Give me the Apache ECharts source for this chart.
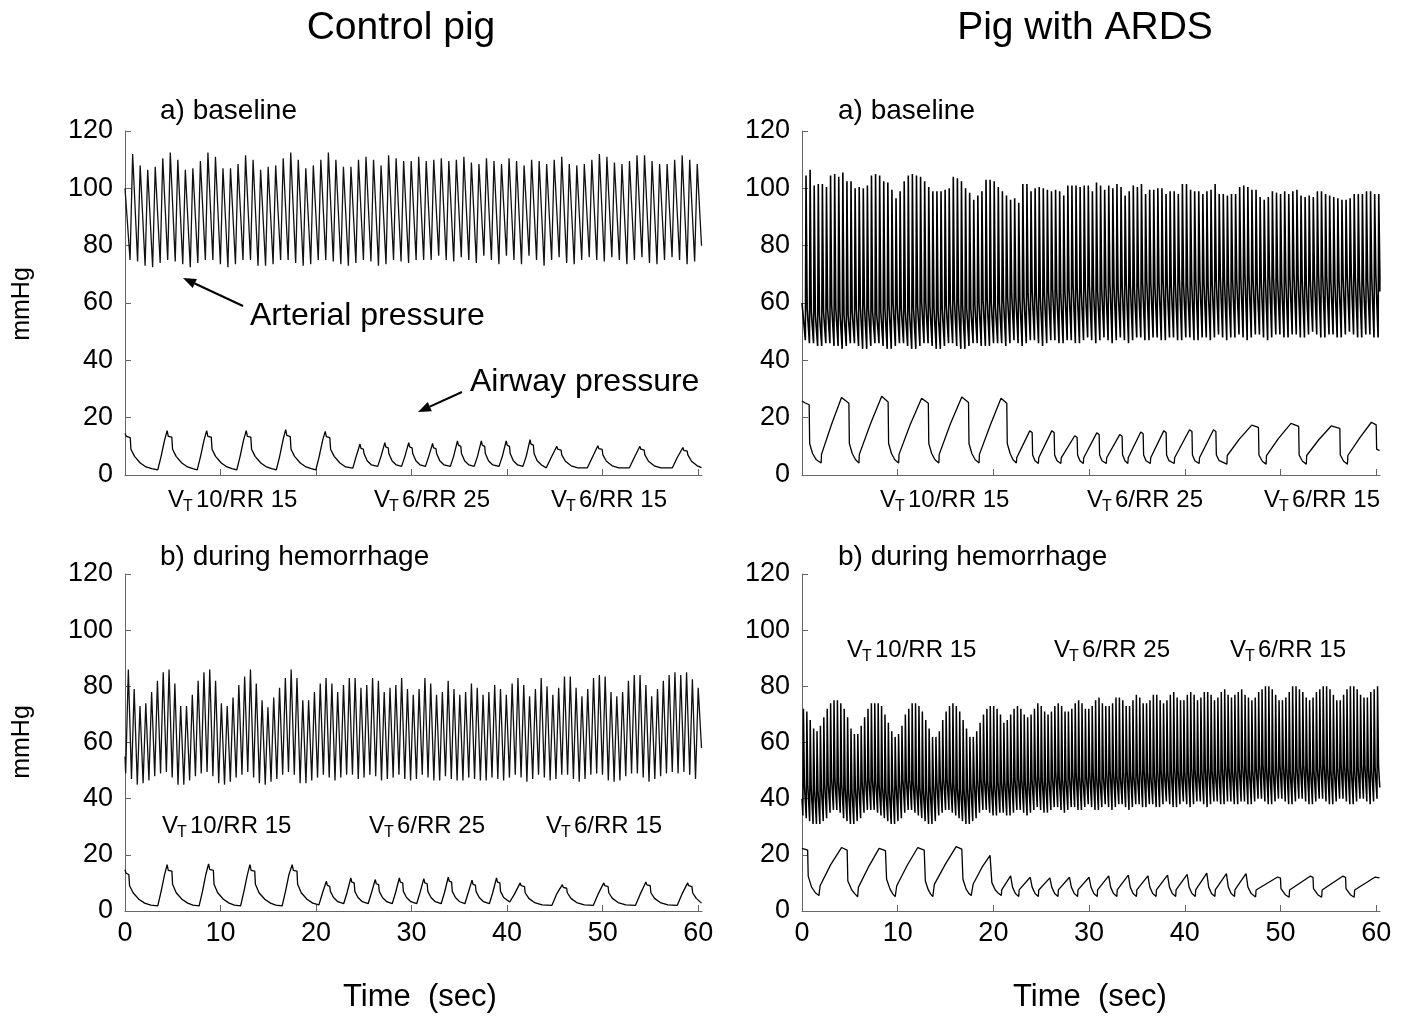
<!DOCTYPE html>
<html><head><meta charset="utf-8">
<script src="https://cdn.jsdelivr.net/npm/echarts@6/dist/echarts.min.js"></script>
<style>html,body{margin:0;padding:0;background:#fff}#c{width:1407px;height:1017px}</style>
</head><body><div id="c"></div>
<script>
// ================= DATA =================
const timeTicks = [0, 10, 20, 30, 40, 50, 60];
const timeMax = 60.4;
const pressureMin = 0, pressureMax = 120, pressureStep = 20;

// ---- Control pig, a) baseline : arterial pressure, one value per heart beat ----
// beat timing: [first systolic peak (s), beat interval (s), upstroke (s)]
const ctlBaseBeat = [0.80, 0.788, 0.27];
const ctlBaseArtStart = [0, 100];
const ctlBaseArtEnd = [60.35, 80];
const ctlBaseArtPeaks = [112,108,106.5,107.5,110.5,112.5,110,106.5,107,109.5,112.5,111,107,107,108.5,111.5,110,106.5,107.5,108,110.5,112.5,110,107,108,110,112.5,110,107.5,107.5,110,111,110,108,111.5,110.5,109.5,109.5,111,109.5,110,110.5,109.5,110,111,109,108.5,110.5,109.5,108.5,110.5,109.5,108,110,109.5,108.5,110,111,108.5,108,108.5,110,112,111,109,108.5,109.5,111.5,111.5,109.5,108.5,108.5,110,111.5,110,108.5];
const ctlBaseArtTroughs = [75,74.5,73,72.5,74,75,74.5,73.5,72.5,74,75,75,73.5,72.5,73.5,75,75,73,73,73.5,75,75,74,73,73.5,75,75,74.5,73.5,73,74,75,74.5,73,73.5,75,74.5,74,75,75,75,76.5,75,74.5,76,75,74,76.5,75,73.5,76.5,75,73.5,76.5,75,73,75,76,74,73.5,75,76,75,74.5,76,75,73.5,75,76,74,73.5,75,76,75,73.5,74.5];
// airway pressure, [time s, mmHg]
const ctlBaseAirway = [
[0,14.5],[0.15,13.5],[0.55,13],[0.62,9],[1.0,6.5],[1.6,4.2],[2.2,2.8],[2.8,2.2],[3.43,1.8],
[3.78,6.5],[4.13,12],[4.41,15.5],[4.53,13.5],[4.9,13.2],[4.98,9],[5.35,6.5],[5.95,4.2],[6.55,2.8],[7.1,2.2],[7.56,1.8],
[7.91,6.5],[8.26,12],[8.55,15.5],[8.67,13.5],[9.03,13.2],[9.11,9],[9.48,6.5],[10.08,4.2],[10.68,2.8],[11.2,2.2],[11.7,1.8],
[12.05,6.5],[12.4,12],[12.69,15.5],[12.81,13.5],[13.17,13.2],[13.25,9],[13.62,6.5],[14.22,4.2],[14.82,2.8],[15.35,2.2],[15.84,1.8],
[16.19,6.5],[16.54,12.2],[16.82,15.8],[16.94,13.8],[17.3,13.4],[17.38,9],[17.75,6.5],[18.35,4.2],[18.95,2.8],[19.5,2.2],[19.98,1.8],
[20.33,6.5],[20.68,12],[20.96,15.2],[21.08,13.4],[21.44,13],[21.52,9],[21.9,6.5],[22.5,4.2],[23.1,2.8],[23.85,2.4],
[24.2,6.5],[24.6,10.8],[24.7,9.3],[24.95,9],[25.02,7.5],[25.35,5],[25.8,3.5],[26.45,3],
[26.8,6.5],[27.2,11.3],[27.3,9.8],[27.55,9.5],[27.62,7.5],[27.95,5],[28.4,3.5],[28.95,3],
[29.3,6.5],[29.7,11.3],[29.8,9.8],[30.05,9.5],[30.12,7.5],[30.45,5],[30.9,3.5],[31.45,3],
[31.8,6.5],[32.2,11],[32.3,9.5],[32.55,9.2],[32.62,7.5],[32.95,5],[33.4,3.5],[34.05,3],
[34.4,6.5],[34.8,11.9],[34.9,10.4],[35.15,10],[35.22,7.5],[35.55,5],[36.0,3.5],[36.55,3],
[36.9,6.5],[37.3,11.9],[37.4,10.4],[37.65,10],[37.72,7.5],[38.05,5],[38.5,3.5],[39.15,3],
[39.5,6.5],[39.9,11.9],[40.0,10.4],[40.25,10],[40.32,7.5],[40.65,5],[41.1,3.5],[41.65,3],
[42.0,6.5],[42.4,12.3],[42.5,10.8],[42.75,10.4],[42.82,7.5],[43.15,5],[43.6,3.5],[44.1,2.5],
[44.6,6],[45.2,10],[45.3,9],[45.65,8.7],[45.72,7],[46.1,4.8],[46.7,3.2],[47.4,2.5],[48.4,2.5],
[48.9,6],[49.5,10.2],[49.6,9.2],[49.95,8.9],[50.02,7],[50.4,4.8],[51.0,3.2],[51.7,2.5],[52.8,2.5],
[53.3,6],[53.9,10],[54.0,9],[54.35,8.7],[54.42,7],[54.8,4.8],[55.4,3.2],[56.1,2.5],[57.3,2.5],
[57.8,6],[58.4,9.6],[58.5,8.6],[58.85,8.3],[58.92,7],[59.3,4.8],[59.9,3.2],[60.35,2.6]];

// ---- Control pig, b) during hemorrhage ----
const ctlHemBeat = [0.35, 0.6087, 0.28];
const ctlHemArtStart = [0, 55];
const ctlHemArtEnd = [60.35, 58];
const ctlHemArtPeaks = [86,79,73,74,78,82,85,86,81,73,73,77,82,85,86,82,74,73,76,80.5,83.5,86,81,75,72.5,76,79.5,83,86,83,75,75,78,81,83,81,78,80.5,83,83,79.5,80.5,83,82,78,79.5,80.5,83,79,77,79,83,81,77,78,82,79,77,78,81,79.5,77,78,80.5,79,77,81,83,80.5,76.5,79,83,80,77,79.5,83.5,83.5,79.5,76.5,79,83,84,83.5,78,76.5,78,82,84,84,80.5,76.5,79,82,84,85,84,85,82.5,79.5];
const ctlHemArtTroughs = [49,47,45,45.5,46.5,48,49,49.5,47.5,45,45,46.5,48,49,49.5,48,45.5,45,46,47.5,48.5,49.5,47.5,45.5,45,46,47,48.5,49.5,48.5,45.5,45.5,46.5,47.5,48.5,47.5,46.5,47.5,48.5,48.5,47,47.5,48.5,48,46.5,47,47.5,48.5,47,46.5,47,48.5,47.5,46.5,46.5,48,47,46.5,46.5,47.5,47,46.5,46.5,47.5,47,46.5,47.5,48.5,47.5,46,47,48.5,47.5,46.5,47,48.5,48.5,47,46,47,48.5,49,48.5,46.5,46,46.5,48,49,49,47.5,46,47,48,49,49.5,49,49.5,48.5,47];
const ctlHemAirway = [
[0,14.7],[0.1,13.5],[0.4,13],[0.48,9],[0.85,6.5],[1.45,4.2],[2.05,2.8],[2.7,2.1],[3.43,1.8],
[3.78,7],[4.13,12.8],[4.41,16.5],[4.53,14.5],[4.91,14.2],[4.98,9.5],[5.36,6.5],[5.96,4.2],[6.56,2.8],[7.11,2.1],[7.76,1.8],
[8.11,7],[8.46,13],[8.75,16.8],[8.87,14.8],[9.25,14.5],[9.32,9.5],[9.7,6.5],[10.3,4.2],[10.9,2.8],[11.45,2.1],[12.1,1.8],
[12.45,7],[12.8,12.8],[13.08,16.5],[13.2,14.5],[13.58,14.2],[13.65,9.5],[14.03,6.5],[14.63,4.2],[15.23,2.8],[15.78,2.1],[16.45,1.8],
[16.8,7],[17.15,12.8],[17.5,16.5],[17.62,14.5],[18.0,14.2],[18.07,9.5],[18.45,6.5],[19.05,4.2],[19.65,2.8],[20.3,2.2],
[20.68,6.5],[21.08,10.6],[21.18,9.1],[21.43,8.8],[21.5,7],[21.83,4.8],[22.28,3.3],[22.89,2.6],
[23.24,6.5],[23.64,11.8],[23.74,10.3],[23.99,10],[24.06,7],[24.39,4.8],[24.84,3.3],[25.45,2.6],
[25.8,6.5],[26.2,11.2],[26.3,9.7],[26.55,9.4],[26.62,7],[26.95,4.8],[27.4,3.3],[27.97,2.6],
[28.32,6.5],[28.72,11.8],[28.82,10.3],[29.07,10],[29.14,7],[29.47,4.8],[29.92,3.3],[30.53,2.6],
[30.88,6.5],[31.28,11.5],[31.38,10],[31.63,9.7],[31.7,7],[32.03,4.8],[32.48,3.3],[33.09,2.6],
[33.44,6.5],[33.84,12.1],[33.94,10.6],[34.19,10.3],[34.26,7],[34.59,4.8],[35.04,3.3],[35.58,2.6],
[35.93,6.5],[36.33,11],[36.43,9.5],[36.68,9.2],[36.75,7],[37.08,4.8],[37.53,3.3],[38.14,2.6],
[38.49,6.5],[38.89,11.8],[38.99,10.3],[39.24,10],[39.31,7],[39.64,4.8],[40.27,3.2],
[40.77,6],[41.37,10],[41.47,9],[41.82,8.7],[41.89,6.5],[42.27,4.5],[42.87,3],[43.67,2.2],[44.68,2],
[45.18,6],[45.78,9.4],[45.88,8.4],[46.23,8.1],[46.3,6.5],[46.68,4.5],[47.28,3],[48.08,2.2],[49.02,2],
[49.52,6],[50.12,10],[50.22,9],[50.57,8.7],[50.64,6.5],[51.02,4.5],[51.62,3],[52.42,2.2],[53.43,2],
[53.93,6],[54.53,10.3],[54.63,9.3],[54.98,9],[55.05,6.5],[55.43,4.5],[56.03,3],[56.83,2.2],[57.8,2],
[58.3,6],[58.9,10],[59.0,9],[59.35,8.7],[59.42,6.5],[59.8,4.5],[60.35,2.8]];

// ---- Pig with ARDS, a) baseline ----
// [first peak (s), beat interval (s), upstroke (s), peak-to-notch (s)]
const ardsBaseBeat = [0.42, 0.4275, 0.07, 0.12];
const ardsBaseArtStart = [0, 60];
const ardsBaseArtEnd = [60.38, 64];
const ardsBaseArtPeaks = [104.5,106.5,101,101.5,101.5,100.5,104.5,105,104,105.5,102.5,102.5,100,100.5,100,101,104.5,105,104.5,102.5,102,99.5,96.5,99,102.5,104.5,105,104.5,104,102.5,100.5,99,99,99,99.5,100,104,103.5,102.5,100,98.5,96,97.5,99,103,103,102.5,100.5,99,97.5,96,96.5,95,101.5,101.5,99,100,100.5,100,99.5,99,99.5,99,97.5,101,101,101,100.5,101,101,99,102,101,99.5,101,100,101.5,100.5,97.5,99,101,100.5,101.5,98,99.5,99.5,100,100,98,99,99,98,101.5,101.5,99.5,99,99,98,99,99.5,101.5,98,98,97.5,98,98,100.5,101,100.5,99.5,99.5,97,96,97,99,98.5,98,99,98,99,99.5,97.5,97,97.5,97,99,99,98,97.5,97,96.5,96,96,96.5,98,98,98,99,99,98,98];
const ardsBaseArtTroughs = [47,46,46,45,45,46,46,45,45,44,45,46,46,45,44,44,45,46,46,45,44,44,45,46,46,45,44,44,45,46,46,45,44,44,45,46,46,45,44,44,45,46,46,45,45,45,46,46,46,45,46,47,46,45,46,47,47,46,45,46,47,47,46,46,47,47,46,46,47,48,47,46,47,48,47,46,47,48,47,46,47,48,48,47,47,48,48,47,47,48,48,47,47,48,48,47,47,48,48,47,48,49,48,47,48,48,49,48,47,48,49,49,48,47,48,49,49,48,48,49,49,48,48,49,50,49,48,48,49,49,48,48,49,50,49,48,48,49,49,48,48];
const ardsBaseArtNotches = [58,57,56,56,57,58,59,58,57,56,56,57,58,59,59,58,57,56,57,58,59,60,59,58,57,57,58,59,60,60,59,58,57,58,59,60,61,60,59,58,58,59,60,61,61,60,59,60,61,62,63,62,61,62,63,64,63,62,63,64,65,64,63,64,65,66,65,64,65,66,65,64,65,66,67,66,65,66,67,66,65,66,67,68,67,66,67,68,67,66,67,68,67,66,67,68,68,67,66,67,68,69,68,67,68,68,69,70,69,68,67,68,69,70,69,68,67,68,69,70,69,68,67,68,69,70,70,69,68,67,68,69,70,70,69,68,67,68,69,70,69];
const ardsBaseAirway = [
[0,25.8],[0.3,25.2],[0.75,24.5],[0.8,11],[1.1,7.5],[1.5,5.3],[2.0,4.2],
[2.04,7.2],[3.1,17.8],[4.13,27],[4.9,25],[4.95,11],[5.25,7.5],[5.6,5.3],[5.95,4.2],
[5.99,7.2],[7.15,17.8],[8.33,27.5],[9.0,25.5],[9.05,11],[9.35,7.5],[9.7,5.3],[10.1,4.2],
[10.14,7.2],[11.3,17.5],[12.5,26.8],[13.2,25],[13.25,11],[13.55,7.5],[13.9,5.3],[14.3,4.2],
[14.34,7.2],[15.5,17.8],[16.7,27.2],[17.4,25.3],[17.45,11],[17.75,7.5],[18.1,5.3],[18.5,4.2],
[18.54,7.2],[19.7,17.6],[20.8,26.8],[21.4,25],[21.45,11],[21.75,7.5],[22.05,5.3],[22.4,4.2],
[22.44,6],[23.8,15.4],[24.05,14.8],[24.1,7],[24.35,5],[24.7,4],
[24.74,6],[26.1,15.4],[26.35,14.8],[26.4,7],[26.65,5],[27.05,4],
[27.09,6],[28.5,13.7],[28.75,13.1],[28.8,7],[29.05,5],[29.4,4],
[29.44,6],[30.8,14.7],[31.05,14.1],[31.1,7],[31.35,5],[31.8,4],
[31.84,6],[33.2,14.1],[33.45,13.5],[33.5,7],[33.75,5],[34.05,4],
[34.09,6],[35.4,15],[35.65,14.4],[35.7,7],[35.95,5],[36.4,4],
[36.44,6],[37.8,15.4],[38.05,14.8],[38.1,7],[38.35,5],[38.9,4],
[38.94,6],[40.5,15.8],[40.75,15.2],[40.8,7],[41.05,5],[41.5,4],
[41.54,6],[43.0,15.8],[43.25,15.2],[43.3,7],[43.6,5],[44.4,3.8],
[44.44,6.8],[45.7,12.5],[47.0,17.4],[47.7,16.6],[47.75,7],[48.1,4.8],[48.5,3.8],
[48.54,6.8],[49.8,12.8],[51.1,18],[51.9,17],[51.95,7],[52.3,4.8],[52.7,3.8],
[52.74,6.8],[54.0,12.3],[55.3,17.1],[56.2,16.3],[56.25,7],[56.6,4.8],[57.0,3.8],
[57.04,6.8],[58.3,13],[59.5,18.4],[60.0,17.5],[60.05,9],[60.35,8.5]];

// ---- Pig with ARDS, b) during hemorrhage ----
const ardsHemBeat = [0.15, 0.355, 0.06, 0.1];
const ardsHemArtStart = [0, 40];
const ardsHemArtEnd = [60.38, 44];
const ardsHemArtPeaks = [72,71,68,65,64,66,69,72,74,75,75,74,72,69,65,63,63,66,69,72,74,74,74,73,70,67,64,62,63,66,70,72,74,74,73,71,68,65,62,62,64,68,71,73,74,73,71,68,65,62,62,64,67,70,72,73,73,72,70,67,68,70,72,73,72,70,69,70,72,74,73,71,70,71,73,74,73,71,71,72,74,75,74,72,72,73,75,76,74,73,73,74,76,76,75,73,73,75,77,76,74,74,75,77,77,75,74,75,77,78,76,75,75,77,78,77,75,76,78,78,77,75,76,78,79,77,76,77,78,79,77,76,75,76,78,79,80,80,79,77,75,75,76,78,80,80,79,78,76,75,76,78,79,80,80,79,77,75,75,77,79,80,80,79,77,76,76,78,79,80];
const ardsHemArtTroughs = [34,33,32,31,31,31,32,33,35,36,36,35,33,32,31,31,32,33,35,36,36,36,35,34,33,32,31,31,32,33,35,36,36,35,34,33,32,31,31,32,34,35,36,36,35,34,33,32,31,31,32,33,35,36,36,35,34,34,35,35,34,34,35,36,36,35,34,35,36,37,36,35,35,36,37,37,36,35,36,37,37,36,36,37,38,37,36,36,37,38,37,36,37,38,38,37,36,37,38,38,37,37,38,38,37,37,38,39,38,37,37,38,39,38,37,38,39,39,38,37,38,39,39,38,38,39,39,38,38,39,39,38,38,39,40,40,39,38,38,39,40,40,39,38,38,39,40,40,39,38,38,39,40,40,39,38,38,39,40,40,39,38,38,39,40,40,39,38,39,40];
const ardsHemArtNotches = [45,45,44,43,43,44,45,46,47,47,46,45,44,43,43,44,45,46,47,47,47,46,45,44,43,43,44,45,46,47,47,47,46,45,44,43,43,44,45,46,47,47,47,46,45,44,43,43,44,45,46,47,47,47,46,45,45,46,46,46,46,47,47,48,47,46,46,47,48,48,47,46,47,48,49,48,47,47,48,49,49,48,47,48,49,49,48,47,48,49,50,49,48,48,49,50,49,48,49,50,50,49,48,49,50,50,49,49,50,51,50,49,49,50,51,50,49,50,51,51,50,49,50,51,52,51,50,50,51,52,51,50,50,51,52,52,51,50,50,51,52,52,51,50,50,51,52,52,51,50,50,51,52,52,51,50,50,51,52,52,51,50,50,51,52,52,51,50,51,52];
const ardsHemAirway = [
[0,22.3],[0.59,21.7],[0.65,12.4],[1.0,8.5],[1.4,6.5],[1.77,5.5],
[1.89,9],[3.0,16.5],[4.13,22.6],[4.72,21.7],[4.79,10.7],[5.2,7.5],[5.55,6],[5.82,5.1],
[5.89,8.4],[7.0,16],[8.06,22.3],[8.72,21.5],[8.84,11.3],[9.2,7.8],[9.5,6],[9.74,5.1],
[9.9,9],[11.0,16.3],[12.1,22.6],[12.77,21.7],[12.89,10.7],[13.2,7.5],[13.45,6],[13.67,5.1],
[13.83,9.5],[15.0,16.8],[16.11,22.9],[16.7,22],[16.82,11.3],[17.15,7.8],[17.45,6.2],[17.68,5.5],
[17.88,9.5],[18.8,15.5],[19.65,19.8],[19.84,10.1],[20.2,7.5],[20.55,6.2],[20.83,5.5],
[20.87,7.5],[21.8,12.5],[21.95,12],[22.0,8.5],[22.3,6.2],[22.65,5.2],
[22.69,7.5],[23.85,12],[24.0,11.5],[24.05,8.5],[24.35,6.2],[24.7,5.2],
[24.74,7.5],[25.9,11.8],[26.05,11.3],[26.1,8.5],[26.4,6.2],[26.75,5.2],
[26.79,7.5],[27.95,12],[28.1,11.5],[28.15,8.5],[28.45,6.2],[28.8,5.2],
[28.84,7.5],[30.0,12],[30.15,11.5],[30.2,8.5],[30.5,6.2],[30.85,5.2],
[30.89,7.5],[32.05,12.5],[32.2,12],[32.25,8.5],[32.55,6.2],[32.9,5.2],
[32.94,7.5],[34.1,12.8],[34.25,12.3],[34.3,8.5],[34.6,6.2],[34.95,5.2],
[34.99,7.5],[36.15,12.5],[36.3,12],[36.35,8.5],[36.65,6.2],[37.0,5.2],
[37.04,7.5],[38.2,12.8],[38.35,12.3],[38.4,8.5],[38.7,6.2],[39.05,5.2],
[39.09,7.5],[40.25,13],[40.4,12.5],[40.45,8.5],[40.75,6.2],[41.1,5.2],
[41.14,7.5],[42.3,13.5],[42.45,13],[42.5,8.5],[42.8,6.2],[43.15,5.2],
[43.19,7.5],[44.35,13.3],[44.5,12.8],[44.55,8.5],[44.85,6.2],[45.2,5.2],
[45.24,7.5],[46.4,13.3],[46.55,12.8],[46.6,8.5],[46.95,6.2],[47.4,5],
[47.45,7.5],[49.7,12.1],[50.0,11.7],[50.05,8],[50.5,5.8],[50.9,4.9],
[50.95,7.5],[53.1,12.4],[53.4,12],[53.45,8],[53.9,5.8],[54.3,4.9],
[54.35,7.5],[56.5,12.4],[56.8,12],[56.85,8],[57.3,5.8],[57.7,4.9],
[57.75,7.5],[59.9,12.1],[60.35,11.8]];

// ================= BUILD =================
function buildBeats(peaks, troughs, notches, timing, start, end) {
  const t0 = timing[0], period = timing[1], rise = timing[2], fall = timing[3];
  const pts = [start];
  for (let i = 0; i < peaks.length; i++) {
    const tp = t0 + i * period;
    pts.push([tp - rise, troughs[i]]);
    pts.push([tp, peaks[i]]);
    if (notches) pts.push([tp + fall, notches[i]]);
  }
  pts.push(end);
  return pts;
}

const FONT = 'Liberation Sans, Arial, Helvetica, sans-serif';
const AX = '#666';
const grids = [
  {left: 125, top: 131, width: 577, height: 344},
  {left: 802, top: 131, width: 578, height: 344},
  {left: 125, top: 574, width: 577, height: 337},
  {left: 802, top: 574, width: 578, height: 337}
];
const xAxes = grids.map((g, i) => ({
  type: 'value', gridIndex: i, min: 0, max: timeMax, interval: 10,
  axisLine: {show: true, lineStyle: {color: AX, width: 1}},
  axisTick: {show: true, inside: true, length: 6, customValues: timeTicks, lineStyle: {color: AX}},
  axisLabel: {show: i >= 2, customValues: timeTicks, fontSize: 27, color: '#000', fontFamily: FONT, margin: 9,
    formatter: v => (Math.abs(v - Math.round(v / 10) * 10) < 1e-6 ? String(Math.round(v)) : '')},
  splitLine: {show: false}
}));
const yAxes = grids.map((g, i) => ({
  type: 'value', gridIndex: i, min: pressureMin, max: pressureMax, interval: pressureStep,
  axisLine: {show: true, lineStyle: {color: AX, width: 1}},
  axisTick: {show: true, inside: true, length: 6, lineStyle: {color: AX}},
  axisLabel: {fontSize: 27, color: '#000', fontFamily: FONT, margin: 12},
  splitLine: {show: false}
}));

function lineSeries(idx, data, color, width) {
  return {type: 'line', xAxisIndex: idx, yAxisIndex: idx, data: data, showSymbol: false, symbol: 'none',
    lineStyle: {color: color, width: width}, animation: false, silent: true, clip: true};
}

const series = [
  lineSeries(0, buildBeats(ctlBaseArtPeaks, ctlBaseArtTroughs, null, ctlBaseBeat, ctlBaseArtStart, ctlBaseArtEnd), '#111', 1.3),
  lineSeries(0, ctlBaseAirway, '#000', 1.3),
  lineSeries(1, buildBeats(ardsBaseArtPeaks, ardsBaseArtTroughs, ardsBaseArtNotches, ardsBaseBeat, ardsBaseArtStart, ardsBaseArtEnd), '#000', 1.6),
  lineSeries(1, ardsBaseAirway, '#000', 1.3),
  lineSeries(2, buildBeats(ctlHemArtPeaks, ctlHemArtTroughs, null, ctlHemBeat, ctlHemArtStart, ctlHemArtEnd), '#111', 1.3),
  lineSeries(2, ctlHemAirway, '#000', 1.3),
  lineSeries(3, buildBeats(ardsHemArtPeaks, ardsHemArtTroughs, ardsHemArtNotches, ardsHemBeat, ardsHemArtStart, ardsHemArtEnd), '#000', 1.5),
  lineSeries(3, ardsHemAirway, '#000', 1.3)
];

// ---- text & annotations ----
function txt(text, x, y, size, align, extra) {
  return Object.assign({type: 'text', x: x, y: y, silent: true,
    style: {text: text, fill: '#000', fontSize: size, fontFamily: FONT, align: align || 'left', verticalAlign: 'middle'}}, extra || {});
}
function vt(x, y, rest) {
  return [txt('V', x, y, 24), txt('T', x + 15, y + 7, 16), txt(rest, x + 28, y, 24)];
}
function arrow(x1, y1, x2, y2) {
  const dx = x2 - x1, dy = y2 - y1, L = Math.hypot(dx, dy), ux = dx / L, uy = dy / L;
  const bx = x2 - 13 * ux, by = y2 - 13 * uy, px = -uy * 5, py = ux * 5;
  return [
    {type: 'line', silent: true, shape: {x1: x1, y1: y1, x2: bx, y2: by}, style: {stroke: '#000', lineWidth: 2}},
    {type: 'polygon', silent: true, shape: {points: [[x2, y2], [bx + px, by + py], [bx - px, by - py]]}, style: {fill: '#000'}}
  ];
}
const graphics = [].concat(
  [txt('Control pig', 401, 28, 39, 'center'), txt('Pig with ARDS', 1085, 28, 39, 'center'),
   txt('a) baseline', 160, 111, 28), txt('b) during hemorrhage', 160, 557, 28),
   txt('a) baseline', 838, 111, 28), txt('b) during hemorrhage', 838, 557, 28),
   txt('mmHg', 22, 304, 25, 'center', {rotation: Math.PI / 2}),
   txt('mmHg', 22, 742, 25, 'center', {rotation: Math.PI / 2}),
   txt('Time  (sec)', 420, 997, 31, 'center'), txt('Time  (sec)', 1090, 997, 31, 'center'),
   txt('Arterial pressure', 250, 316, 32), txt('Airway pressure', 470, 382, 32)],
  arrow(243, 306, 183, 278), arrow(462, 392, 418, 412),
  vt(168, 500, '10/RR 15'), vt(374, 500, '6/RR 25'), vt(551, 500, '6/RR 15'),
  vt(880, 500, '10/RR 15'), vt(1087, 500, '6/RR 25'), vt(1264, 500, '6/RR 15'),
  vt(162, 826, '10/RR 15'), vt(369, 826, '6/RR 25'), vt(546, 826, '6/RR 15'),
  vt(847, 650, '10/RR 15'), vt(1054, 650, '6/RR 25'), vt(1230, 650, '6/RR 15')
);

const chart = echarts.init(document.getElementById('c'), null, {renderer: 'canvas'});
chart.setOption({
  animation: false,
  backgroundColor: '#fff',
  grid: grids.map(g => Object.assign({outerBoundsMode: 'none', containLabel: false}, g)),
  xAxis: xAxes,
  yAxis: yAxes,
  series: series,
  graphic: graphics
});
</script></body></html>
